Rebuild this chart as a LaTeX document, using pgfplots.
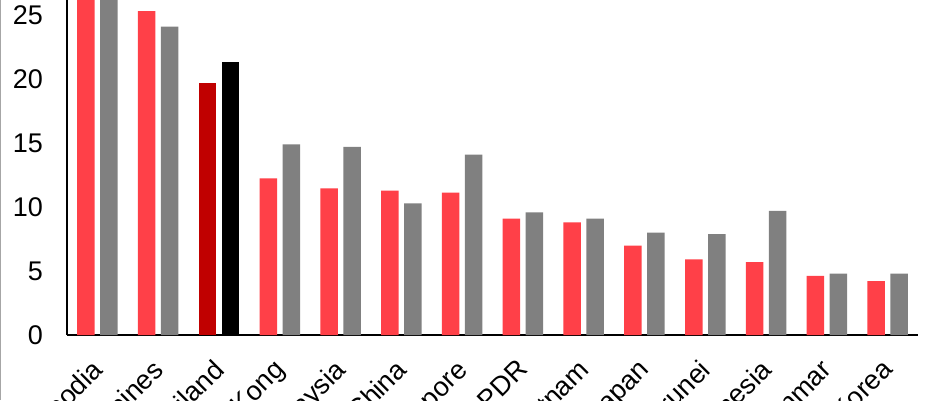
\documentclass[border=0pt]{standalone}
\usepackage{pgfplots}
\pgfplotsset{compat=1.18}
\usepackage{fontspec}
\setmainfont{Liberation Sans}
\definecolor{cred}{RGB}{255,64,72}
\definecolor{cgray}{RGB}{128,128,128}
\definecolor{cdark}{RGB}{192,0,0}
\begin{document}
\begin{tikzpicture}
\useasboundingbox (-67pt,-65pt) rectangle (873pt,335pt);
\clip (-67pt,-65pt) rectangle (873pt,335pt);
\fill[white] (-67pt,-65pt) rectangle (873pt,335pt);
\begin{axis}[
  at={(0,0)}, anchor=south west,
  scale only axis, width=851pt, height=384pt,
  xmin=-0.5, xmax=13.5, ymin=0, ymax=30,
  axis x line*=bottom, axis y line*=left,
  axis line style={black, line width=1.3pt, -},
  major tick length=0pt,
  ytick={0,5,10,15,20,25,30},
  xtick={0,...,13},
  xticklabels={Cambodia,Philippines,Thailand,Hong Kong,Malaysia,China,Singapore,Lao PDR,Vietnam,Japan,Brunei,Indonesia,Myanmar,Korea},
  tick label style={font=\fontsize{27}{32}\selectfont},
  /pgf/number format/assume math mode=true,
  yticklabel style={anchor=east, inner sep=0pt, xshift=-24pt},
  xticklabel style={xshift=-7pt, yshift=-18pt, rotate=45, anchor=north east},
  clip=false,
]
\addplot[ybar, bar width=17.5pt, bar shift=-11.5pt, fill=cred, draw=none] coordinates {
 (0,28.5) (1,25.3) (3,12.24) (4,11.46) (5,11.27) (6,11.12) (7,9.09) (8,8.8) (9,6.98) (10,5.91) (11,5.7) (12,4.61) (13,4.2)};
\addplot[ybar, bar width=17.5pt, bar shift=11.5pt, fill=cgray, draw=none] coordinates {
 (0,27.8) (1,24.1) (3,14.9) (4,14.7) (5,10.29) (6,14.09) (7,9.58) (8,9.09) (9,7.99) (10,7.89) (11,9.69) (12,4.79) (13,4.79)};
\addplot[ybar, bar width=17.5pt, bar shift=-11.5pt, fill=cdark, draw=none] coordinates {(2,19.7)};
\addplot[ybar, bar width=17.5pt, bar shift=11.5pt, fill=black, draw=none] coordinates {(2,21.35)};
\end{axis}
\draw[black!35, line width=1pt] (-66.5pt,-65pt) -- (-66.5pt,335pt);
\end{tikzpicture}
\end{document}
